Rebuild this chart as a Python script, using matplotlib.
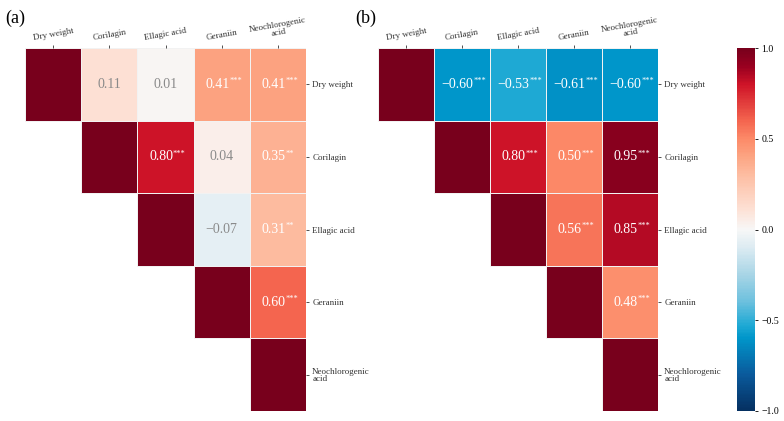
import numpy as np
import matplotlib
matplotlib.use("Agg")
import matplotlib.pyplot as plt
from matplotlib.colors import LinearSegmentedColormap, Normalize

plt.rcParams["font.family"] = ["Liberation Serif", "DejaVu Serif"]

# Donnees
labels = ["Dry weight", "Corilagin", "Ellagic acid", "Geraniin", "Neochlorogenic\nacid"]

corr_a = [
    [1.00, 0.11, 0.01, 0.41, 0.41],
    [None, 1.00, 0.80, 0.04, 0.35],
    [None, None, 1.00, -0.07, 0.31],
    [None, None, None, 1.00, 0.60],
    [None, None, None, None, 1.00],
]
stars_a = [
    ["", "", "", "***", "***"],
    ["", "", "***", "", "**"],
    ["", "", "", "", "**"],
    ["", "", "", "", "***"],
    ["", "", "", "", ""],
]

corr_b = [
    [1.00, -0.60, -0.53, -0.61, -0.60],
    [None, 1.00, 0.80, 0.50, 0.95],
    [None, None, 1.00, 0.56, 0.85],
    [None, None, None, 1.00, 0.48],
    [None, None, None, None, 1.00],
]
stars_b = [
    ["", "***", "***", "***", "***"],
    ["", "", "***", "***", "***"],
    ["", "", "", "***", "***"],
    ["", "", "", "", "***"],
    ["", "", "", "", ""],
]

# Palette personnalisee (bleu cyan -> blanc -> rouge)
points = [
    (0.00, "#053061"),
    (0.10, "#0a5a9c"),
    (0.20, "#0096ca"),
    (0.235, "#1ea9d4"),
    (0.30, "#6cc0de"),
    (0.375, "#a8d5e6"),
    (0.45, "#dcebf2"),
    (0.50, "#f7f7f7"),
    (0.55, "#fde3d8"),
    (0.65, "#fdbda2"),
    (0.70, "#fca583"),
    (0.75, "#fc8a68"),
    (0.80, "#f4654f"),
    (0.90, "#cf1428"),
    (0.95, "#9a0020"),
    (1.00, "#78001c"),
]
cmap = LinearSegmentedColormap.from_list("rdbu_cyan", points)
norm = Normalize(vmin=-1, vmax=1)


def dessiner_panel(ax, corr, stars, gris_ns):
    n = len(labels)
    # Une ligne du triangle superieur a la fois (pas de bord sur les cases vides)
    for i, row in enumerate(corr):
        vals = np.array([row[i:]], dtype=float)
        xs = np.arange(i, n + 1)
        ys = np.array([i, i + 1])
        ax.pcolormesh(xs, ys, vals, cmap=cmap, norm=norm,
                      edgecolors="#f2f2f2", linewidth=0.5)
    ax.set_xlim(0, n)
    ax.set_ylim(n, 0)

    for i in range(n):
        for j in range(i + 1, n):
            v = corr[i][j]
            s = stars[i][j]
            couleur = "white" if (s or not gris_ns) else "#8a8a8a"
            txt = f"{v:.2f}".replace("-", "\u2212")
            dx = -0.08 if s else 0
            t = ax.text(j + 0.5 + dx, i + 0.5, txt, ha="center", va="center",
                        fontsize=10, color=couleur)
            if s:
                ax.annotate(s, xy=(1.0, 0.45), xycoords=t, fontsize=6,
                            color=couleur, ha="left", va="bottom")

    ax.xaxis.tick_top()
    ax.set_xticks(np.arange(n) + 0.5)
    ax.set_xticklabels(labels, rotation=10, fontsize=6.5, ha="center",
                       linespacing=0.9)
    ax.yaxis.tick_right()
    ax.set_yticks(np.arange(n) + 0.5)
    ax.set_yticklabels(labels, fontsize=6.5, linespacing=0.9)
    ax.tick_params(length=2.5, width=0.6, pad=2, colors="#333333")
    for sp in ax.spines.values():
        sp.set_visible(False)


fig = plt.figure(figsize=(7.84, 4.21), dpi=100)
H = 421.0
W = 784.0
ax_a = fig.add_axes([25 / W, 10 / H, 281 / W, 363 / H])
ax_b = fig.add_axes([378 / W, 10 / H, 280 / W, 363 / H])
cax = fig.add_axes([737 / W, 10 / H, 18 / W, 363 / H])

dessiner_panel(ax_a, corr_a, stars_a, gris_ns=True)
dessiner_panel(ax_b, corr_b, stars_b, gris_ns=False)

sm = plt.cm.ScalarMappable(cmap=cmap, norm=norm)
cb = fig.colorbar(sm, cax=cax, ticks=[-1.0, -0.5, 0.0, 0.5, 1.0])
cb.outline.set_visible(False)
cb.ax.set_yticklabels(["\u22121.0", "\u22120.5", "0.0", "0.5", "1.0"])
cb.ax.tick_params(labelsize=7, length=2.5, width=0.6, pad=2)

fig.text(5 / W, 1 - 18 / H, "(a)", fontsize=13, va="center", ha="left")
fig.text(355 / W, 1 - 18 / H, "(b)", fontsize=13, va="center", ha="left")

fig.savefig("out.png", dpi=100, facecolor="white")
